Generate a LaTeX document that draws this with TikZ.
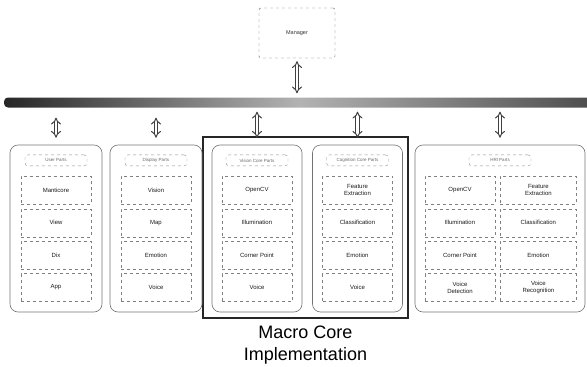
\documentclass[tikz,border=0pt]{standalone}
\usepackage{fontspec}
\setmainfont{Liberation Sans}
\usetikzlibrary{arrows.meta, positioning}

\begin{document}
\begin{tikzpicture}[
    x=1pt, y=1pt,
    node distance=4pt,
    panel/.style={rectangle, draw=black!55, line width=0.6pt, rounded corners=8pt, minimum height=167pt},
    header/.style={rectangle, draw=black!45, dashed, rounded corners=3pt, minimum width=62pt, minimum height=11pt, inner sep=1pt, font=\fontsize{4.5}{5}\selectfont, text=black!60},
    item/.style={rectangle, draw=black!50, dashed, line width=0.4pt, minimum width=70pt, minimum height=28pt, inner sep=1pt, align=center, font=\fontsize{6}{7}\selectfont, text=black!90},
    mgrbox/.style={rectangle, draw=black!60, dashed, rounded corners=2pt, minimum width=76pt, minimum height=50pt, font=\fontsize{5.5}{6}\selectfont, text=black!80},
    corebox/.style={rectangle, draw=black!85, line width=2pt, minimum width=205pt, minimum height=181pt},
    dblarrow/.style={draw=black!75, double=white, double distance=2.4pt, line width=1pt, {Implies}-{Implies}}
]
\useasboundingbox (0,0) rectangle (587,-367);

% manager and the shared bus
\node[mgrbox] (mgr) at (297,-33) {Manager};
\node[rectangle, rounded corners=4pt, minimum width=590pt, minimum height=10pt, inner sep=0pt,
      left color=black!85, right color=black!70, middle color=black!30] (bus) at (299,-102.5) {};

% macro core frame
\node[corebox] (core) at (305.5,-227.5) {};
\node[below=3pt of core, align=center, font=\fontsize{18}{22}\selectfont] (corelbl) {Macro Core\\Implementation};

% panels
\node[panel, minimum width=92pt] (p1) at (56,-228.5) {};
\node[panel, minimum width=92pt] (p2) at (156,-228.5) {};
\node[panel, minimum width=90pt] (p3) at (257,-228.5) {};
\node[panel, minimum width=90pt] (p4) at (357.5,-228.5) {};
\node[panel, minimum width=170pt] (p5) at (500,-228.5) {};

% user parts
\node[header, below=10pt of p1.north] (h1) {User Parts};
\node[item, below=10pt of h1] (u1) {Manticore};
\node[item, below=of u1] (u2) {View};
\node[item, below=of u2] (u3) {Dix};
\node[item, below=of u3] (u4) {App};

% display parts
\node[header, below=10pt of p2.north] (h2) {Display Parts};
\node[item, below=10pt of h2] (d1) {Vision};
\node[item, below=of d1] (d2) {Map};
\node[item, below=of d2] (d3) {Emotion};
\node[item, below=of d3] (d4) {Voice};

% vision core parts
\node[header, below=10pt of p3.north] (h3) {Vision Core Parts};
\node[item, below=10pt of h3] (v1) {OpenCV};
\node[item, below=of v1] (v2) {Illumination};
\node[item, below=of v2] (v3) {Corner Point};
\node[item, below=of v3] (v4) {Voice};

% cognition core parts
\node[header, below=10pt of p4.north] (h4) {Cognition Core Parts};
\node[item, below=10pt of h4] (c1) {Feature\\Extraction};
\node[item, below=of c1] (c2) {Classification};
\node[item, below=of c2] (c3) {Emotion};
\node[item, below=of c3] (c4) {Voice};

% robot parts, two columns
\node[header, below=10pt of p5.north] (h5) {HRI Parts};
\node[item, below=10pt of h5, xshift=-40pt] (r1) {OpenCV};
\node[item, below=of r1] (r2) {Illumination};
\node[item, below=of r2] (r3) {Corner Point};
\node[item, below=of r3] (r4) {Voice\\Detection};
\node[item, right=5pt of r1, minimum width=76pt] (s1) {Feature\\Extraction};
\node[item, below=of s1, minimum width=76pt] (s2) {Classification};
\node[item, below=of s2, minimum width=76pt] (s3) {Emotion};
\node[item, below=of s3, minimum width=76pt] (s4) {Voice\\Recognition};

% links to the bus
\draw[dblarrow, shorten <=3pt, shorten >=4pt] (mgr.south) -- (mgr.south |- bus.north);
\draw[dblarrow, shorten <=10pt, shorten >=7pt] (bus.south -| p1.north) -- (p1.north);
\draw[dblarrow, shorten <=10pt, shorten >=7pt] (bus.south -| p2.north) -- (p2.north);
\draw[dblarrow, shorten <=4pt, shorten >=7pt] (bus.south -| p3.north) -- (p3.north);
\draw[dblarrow, shorten <=4pt, shorten >=7pt] (bus.south -| p4.north) -- (p4.north);
\draw[dblarrow, shorten <=4pt, shorten >=7pt] (bus.south -| p5.north) -- (p5.north);
\end{tikzpicture}
\end{document}
